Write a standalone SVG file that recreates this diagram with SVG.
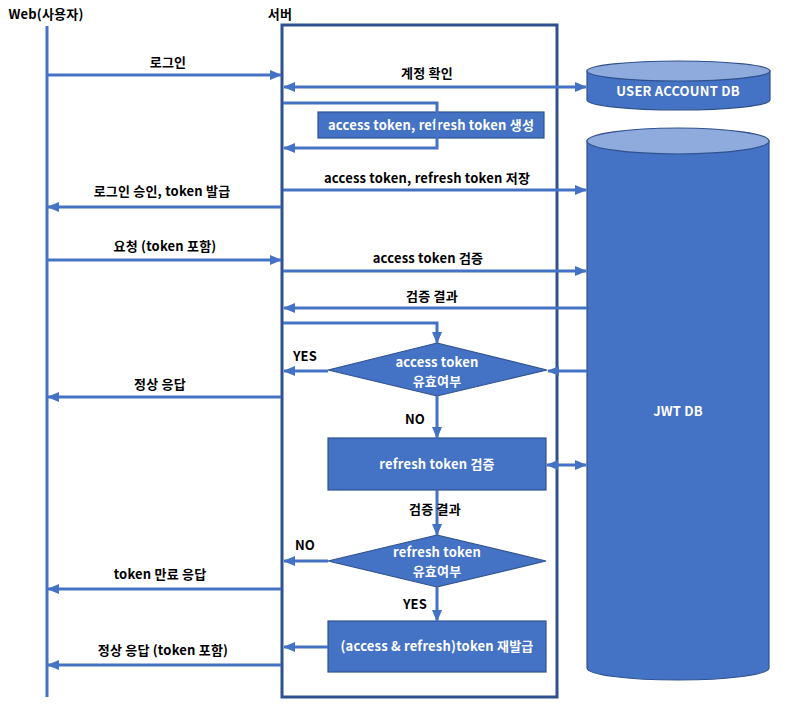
<svg xmlns="http://www.w3.org/2000/svg" width="800" height="714" viewBox="0 0 800 714">
<defs>
<marker id="ah" markerUnits="userSpaceOnUse" markerWidth="12" markerHeight="12" refX="11" refY="6" orient="auto-start-reverse" viewBox="0 0 12 12">
<path d="M0,1 L12,6 L0,11 z" fill="#4472C4"/>
</marker>
<style>
.t{font-family:"Noto Sans CJK KR","Malgun Gothic",sans-serif;font-weight:bold;font-size:13px;letter-spacing:0.2px;fill:#000;text-anchor:middle}
.w{fill:#fff}
.ln{stroke:#4472C4;stroke-width:3;fill:none}
.ar{stroke:#4472C4;stroke-width:3;fill:none;marker-end:url(#ah)}
.bi{stroke:#4472C4;stroke-width:3;fill:none;marker-end:url(#ah);marker-start:url(#ah)}
.box{fill:#4472C4;stroke:#2F528F;stroke-width:1.2}
.cyl{fill:#4472C4;stroke:#2F528F;stroke-width:1.2}
.top{fill:#8FAADC;stroke:#2F528F;stroke-width:1.2}
</style>
</defs>
<rect width="800" height="714" fill="#fff"/>

<g id="web">
<text class="t" x="46" y="19">Web(사용자)</text>
<line x1="47" y1="26" x2="47" y2="697" stroke="#4472C4" stroke-width="3"/>
</g>

<g id="server">
<text class="t" x="280" y="19">서버</text>
<rect x="282" y="25" width="275" height="672" fill="none" stroke="#2F528F" stroke-width="3"/>
</g>

<g id="user-account-db">
<path class="cyl" d="M587,71 L587,100 A91.5,10 0 0 0 770,100 L770,71 z"/>
<ellipse class="top" cx="678.5" cy="71" rx="91.5" ry="10"/>
<text class="t w" x="678" y="96">USER ACCOUNT DB</text>
</g>

<g id="jwt-db">
<path class="cyl" d="M587,141 L587,668 A91,12 0 0 0 769,668 L769,141 z"/>
<ellipse class="top" cx="678" cy="141" rx="91" ry="13"/>
<text class="t w" x="678" y="416">JWT DB</text>
</g>

<g id="gen-box">
<rect class="box" x="318" y="112" width="226" height="26"/>
<text class="t w" x="431" y="130">access token, refresh token 생성</text>
</g>

<g id="access-diamond">
<polygon class="box" points="437,343 547,370 437,396 328,370"/>
<text class="t w" x="437" y="367">access token</text>
<text class="t w" x="437" y="386">유효여부</text>
</g>

<g id="refresh-verify">
<rect class="box" x="328" y="438" width="218" height="52"/>
<text class="t w" x="437" y="469">refresh token 검증</text>
</g>

<g id="refresh-diamond">
<polygon class="box" points="437,535 546,561 437,587 328,561"/>
<text class="t w" x="437" y="557">refresh token</text>
<text class="t w" x="437" y="576">유효여부</text>
</g>

<g id="reissue">
<rect class="box" x="328" y="621" width="218" height="51"/>
<text class="t w" x="437" y="651">(access &amp; refresh)token 재발급</text>
</g>

<g id="connectors">
<line class="ar" x1="48" y1="75" x2="281" y2="75"/>
<line class="bi" x1="284" y1="87" x2="586" y2="87"/>
<polyline class="ar" points="283,103 437,103 437,148 284,148"/>
<line class="ar" x1="283" y1="190" x2="586" y2="190"/>
<line class="ar" x1="281" y1="207" x2="48" y2="207"/>
<line class="ar" x1="48" y1="260" x2="281" y2="260"/>
<line class="ar" x1="283" y1="271" x2="586" y2="271"/>
<line class="ar" x1="587" y1="308" x2="284" y2="308"/>
<polyline class="ar" points="283,323 437,323 437,343"/>
<line class="ar" x1="328" y1="371" x2="284" y2="371"/>
<line class="ar" x1="587" y1="371" x2="548" y2="371"/>
<line class="ar" x1="281" y1="397" x2="48" y2="397"/>
<line class="ar" x1="437" y1="396" x2="437" y2="438"/>
<line class="bi" x1="547" y1="465" x2="586" y2="465"/>
<line class="ar" x1="437" y1="490" x2="437" y2="535"/>
<line class="ar" x1="328" y1="561" x2="284" y2="561"/>
<line class="ar" x1="281" y1="589" x2="48" y2="589"/>
<line class="ar" x1="437" y1="587" x2="437" y2="621"/>
<line class="ar" x1="328" y1="647" x2="284" y2="647"/>
<line class="ar" x1="281" y1="665" x2="48" y2="665"/>
</g>

<g id="labels">
<text class="t" x="168" y="67">로그인</text>
<text class="t" x="427" y="78">계정 확인</text>
<text class="t" x="427" y="183">access token, refresh token 저장</text>
<text class="t" x="162" y="196">로그인 승인, token 발급</text>
<text class="t" x="165" y="251">요청 (token 포함)</text>
<text class="t" x="428" y="263">access token 검증</text>
<text class="t" x="432" y="301">검증 결과</text>
<text class="t" x="305" y="361">YES</text>
<text class="t" x="160" y="389">정상 응답</text>
<text class="t" x="415" y="424">NO</text>
<text class="t" x="435" y="514">검증 결과</text>
<text class="t" x="305" y="550">NO</text>
<text class="t" x="160" y="579">token 만료 응답</text>
<text class="t" x="415" y="609">YES</text>
<text class="t" x="163" y="655">정상 응답 (token 포함)</text>
</g>
</svg>
